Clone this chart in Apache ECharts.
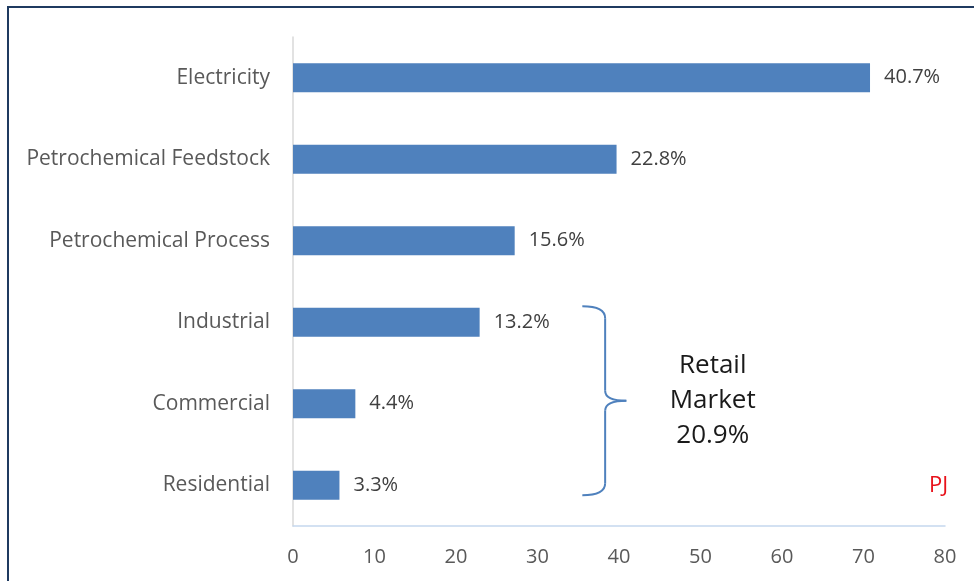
<!DOCTYPE html>
<html><head><meta charset="utf-8">
<script src="https://cdn.jsdelivr.net/npm/echarts@6/dist/echarts.min.js"></script>
<style>html,body{margin:0;padding:0;background:#fff}#c{width:974px;height:581px}</style>
</head><body><div id="c"></div>
<script>
const categories = ["Residential","Commercial","Industrial","Petrochemical Process","Petrochemical Feedstock","Electricity"];
const valuesPJ = [5.7, 7.65, 22.9, 27.2, 39.7, 70.8];
const shareLabels = ["3.3%","4.4%","13.2%","15.6%","22.8%","40.7%"];
const xTicks = [0,10,20,30,40,50,60,70,80];
const retailLabel = ["Retail","Market","20.9%"];
const unitLabel = "PJ";

const chart = echarts.init(document.getElementById('c'), null, {renderer:'canvas'});
const font = '"Open Sans", "Noto Sans", sans-serif';
chart.setOption({
  animation:false,
  grid:{left:293, right:29, top:37, bottom:55, containLabel:false},
  xAxis:{type:'value', min:xTicks[0], max:xTicks[xTicks.length-1], interval:10,
    axisLine:{show:true, lineStyle:{color:'#C5D8EE', width:1.5}},
    axisTick:{show:false}, splitLine:{show:false},
    axisLabel:{color:'#595959', fontFamily:font, fontSize:20, margin:21}},
  yAxis:{type:'category', data:categories,
    axisLine:{show:true, lineStyle:{color:'#D9D9D9', width:1.5}},
    axisTick:{show:false},
    axisLabel:{color:'#595959', fontFamily:font, fontSize:21, margin:23}},
  series:[{type:'bar', data:valuesPJ, barWidth:29,
    itemStyle:{color:'#4F81BD'},
    label:{show:true, position:'right', distance:14, color:'#404040', fontFamily:font, fontSize:20,
      formatter:p=>shareLabels[p.dataIndex]}}]
});

function drawExtras(){
  const yInd = chart.convertToPixel({yAxisIndex:0}, 'Industrial');
  const yRes = chart.convertToPixel({yAxisIndex:0}, 'Residential');
  const x0 = chart.convertToPixel({xAxisIndex:0}, 35.5);
  const x1 = chart.convertToPixel({xAxisIndex:0}, 38.3);
  const xt = chart.convertToPixel({xAxisIndex:0}, 40.9);
  const yT = yInd - 16, yB = yRes + 10, yM = (yT + yB)/2;
  const ls = {stroke:'#4F81BD', lineWidth:2, fill:'none'};
  const bz = (a,b,c,d,e,f)=>({type:'bezierCurve', shape:{x1:a,y1:b,cpx1:c,cpy1:d,x2:e,y2:f}, style:ls, silent:true});
  const ln = (a,b,c,d)=>({type:'line', shape:{x1:a,y1:b,x2:c,y2:d}, style:ls, silent:true});
  const xText = chart.convertToPixel({xAxisIndex:0}, 51.5);
  const xPJ = chart.convertToPixel({xAxisIndex:0}, 79.2);
  chart.setOption({graphic:[
    {type:'rect', shape:{x:8, y:7, width:980, height:600}, style:{fill:'none', stroke:'#1F3A60', lineWidth:2}, silent:true},
    bz(x0,yT, x1,yT, x1,yT+12),
    ln(x1,yT+12, x1,yM-10),
    bz(x1,yM-10, x1,yM, xt,yM),
    bz(xt,yM, x1,yM, x1,yM+10),
    ln(x1,yM+10, x1,yB-12),
    bz(x1,yB-12, x1,yB, x0,yB),
    {type:'text', x:xText, y:yM, style:{text:retailLabel.join('\n'), font:'26px '+font, fill:'#1a1a1a', align:'center', verticalAlign:'middle', lineHeight:35}},
    {type:'text', x:xPJ, y:yRes, style:{text:unitLabel, font:'22px '+font, fill:'#E8111A', align:'center', verticalAlign:'middle'}}
  ]});
}
drawExtras();
</script></body></html>
